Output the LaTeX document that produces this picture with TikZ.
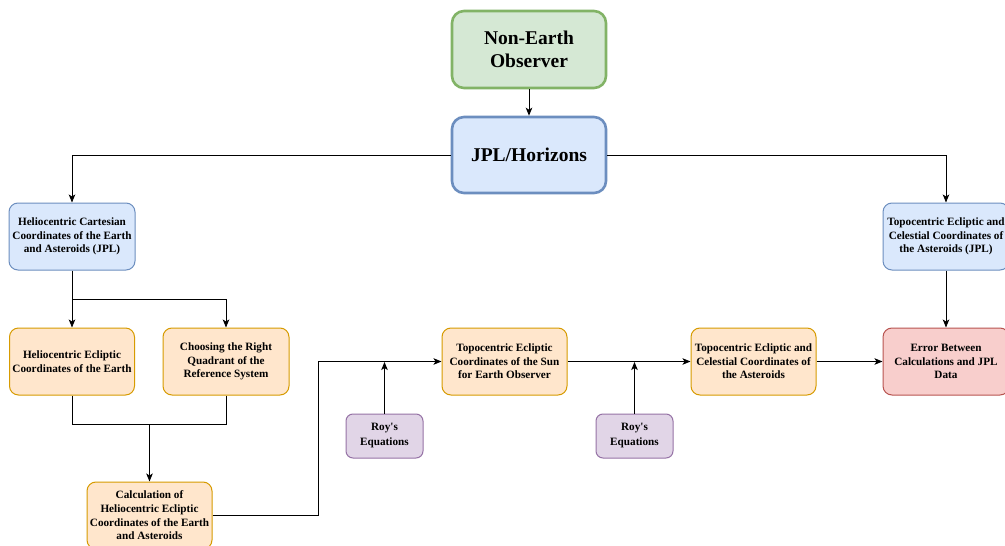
\documentclass[tikz,border=0pt]{standalone}
\usepackage{fontspec}
\setmainfont{Liberation Serif}
\usetikzlibrary{arrows.meta}
\definecolor{gfill}{HTML}{D5E8D4}\definecolor{gdraw}{HTML}{82B366}
\definecolor{bfill}{HTML}{DAE8FC}\definecolor{bdraw}{HTML}{6C8EBF}
\definecolor{ofill}{HTML}{FFE6CC}\definecolor{odraw}{HTML}{D79B00}
\definecolor{rfill}{HTML}{F8CECC}\definecolor{rdraw}{HTML}{B85450}
\definecolor{pfill}{HTML}{E1D5E7}\definecolor{pdraw}{HTML}{9673A6}
\tikzset{
  box/.style={rectangle, rounded corners=9pt, line width=1pt, align=center, inner sep=0pt,
    font=\fontsize{11.2}{13.6}\selectfont\bfseries},
  bigbox/.style={rectangle, rounded corners=12pt, line width=2.6pt, align=center, inner sep=0pt,
    font=\fontsize{19.5}{22.5}\selectfont\bfseries},
  green/.style={fill=gfill, draw=gdraw},
  blue/.style={fill=bfill, draw=bdraw},
  orange/.style={fill=ofill, draw=odraw},
  red/.style={fill=rfill, draw=rdraw},
  purple/.style={fill=pfill, draw=pdraw},
  conn/.style={line width=0.9pt, -{Stealth[length=8pt,width=6.5pt,inset=2pt]}},
  plain/.style={line width=0.9pt},
}
\begin{document}
\begin{tikzpicture}[x=1pt,y=-1pt]
\useasboundingbox (0,0) rectangle (1005,546);
\clip (0,0) rectangle (1005,546);
\fill[white] (0,0) rectangle (1005,546);
% nodes
\node[bigbox,green,minimum width=154pt,minimum height=77pt] (neo) at (529,49.5) {Non-Earth\\Observer};
\node[bigbox,blue,minimum width=154pt,minimum height=76pt] (jpl) at (529,155) {JPL/Horizons};
\node[box,blue,minimum width=126pt,minimum height=67pt] (hcc) at (72,236.5) {Heliocentric Cartesian\\Coordinates of the Earth\\and Asteroids (JPL)};
\node[box,blue,minimum width=126pt,minimum height=67pt] (tjpl) at (946,236.5) {Topocentric Ecliptic and\\Celestial Coordinates of\\the Asteroids (JPL)};
\node[box,orange,minimum width=125pt,minimum height=67pt] (hec) at (72,361.5) {Heliocentric Ecliptic\\Coordinates of the Earth};
\node[box,orange,minimum width=126pt,minimum height=67pt] (crq) at (226,361.5) {Choosing the Right\\Quadrant of the\\Reference System};
\node[box,orange,minimum width=125pt,minimum height=67pt] (calc) at (149.5,515.5) {Calculation of\\Heliocentric Ecliptic\\Coordinates of the Earth\\and Asteroids};
\node[box,orange,minimum width=125pt,minimum height=67pt] (sun) at (504.5,361.5) {Topocentric Ecliptic\\Coordinates of the Sun\\for Earth Observer};
\node[box,orange,minimum width=125pt,minimum height=67pt] (ast) at (753.5,361.5) {Topocentric Ecliptic and\\Celestial Coordinates of\\the Asteroids};
\node[box,red,minimum width=126pt,minimum height=67pt] (err) at (946,361.5) {Error Between\\Calculations and JPL\\Data};
\node[box,purple,minimum width=77pt,minimum height=44pt,rounded corners=7pt,font=\fontsize{11.2}{15}\selectfont\bfseries] (roy1) at (384.5,436) {Roy\textquotesingle s\\Equations};
\node[box,purple,minimum width=77pt,minimum height=44pt,rounded corners=7pt,font=\fontsize{11.2}{15}\selectfont\bfseries] (roy2) at (634.5,436) {Roy\textquotesingle s\\Equations};
% helper coordinates
\coordinate (j1) at (72,299);
\coordinate (j2) at (149.5,424);
\coordinate (r1) at (384.5,362);
\coordinate (r2) at (634.5,362);
% connectors
\draw[conn] (neo) -- (jpl);
\draw[conn] (jpl.west) -| (hcc.north);
\draw[conn] (jpl.east) -| (tjpl.north);
\draw[conn] (hcc.south) -- (hec.north);
\draw[conn] (j1) -| (crq.north);
\draw[plain] (hec.south) |- (j2);
\draw[plain] (crq.south) |- (j2);
\draw[conn] (j2) -- (calc.north);
\draw[conn] (calc.east) -- (318,515.5) |- (sun.west);
\draw[conn] (roy1.north) -- (r1);
\draw[conn] (sun.east) -- (ast.west);
\draw[conn] (roy2.north) -- (r2);
\draw[conn] (ast.east) -- (err.west);
\draw[conn] (tjpl.south) -- (err.north);
\end{tikzpicture}
\end{document}
